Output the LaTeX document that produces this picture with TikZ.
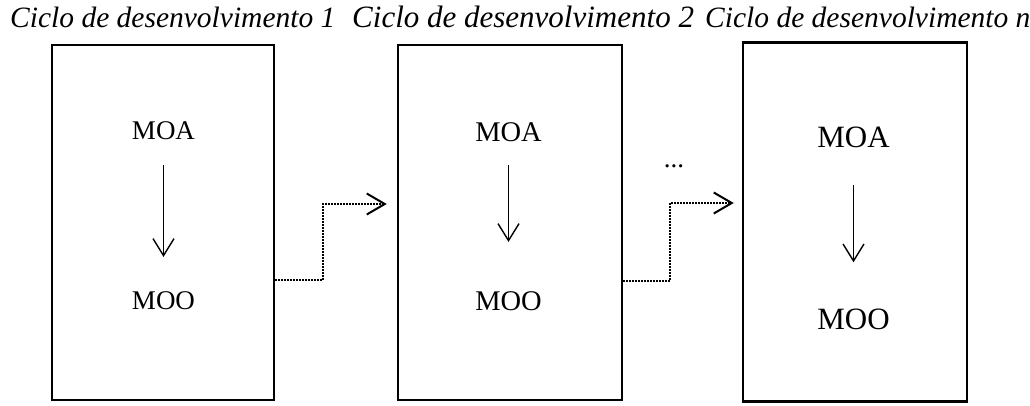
\documentclass[tikz,border=0pt]{standalone}
\usepackage{fontspec}
\setmainfont{Liberation Serif}
\usetikzlibrary{arrows.meta,shadows}

\begin{document}
\begin{tikzpicture}[x=1pt, y=-1pt,
    cyclebox/.style={draw, fill=white, line width=2.5pt, inner sep=0pt},
    cycletitle/.style={anchor=base west, inner sep=0pt, font=\fontsize{29.5}{34}\selectfont\itshape},
    model/.style={anchor=base, inner sep=0pt},
    down/.style={line width=1.4pt, -{Straight Barb[length=17pt, width=21pt, line width=1.4pt]}},
    flow/.style={line width=1.5pt, dash pattern=on 1.5pt off 1.5pt,
        -{Straight Barb[length=18pt, width=21pt, line width=2pt]}}]
    \useasboundingbox (0,0) rectangle (1030,405);

    \node [cycletitle] (t1) at (10,27) {Ciclo de desenvolvimento 1};
    \node [cycletitle, font=\fontsize{31}{36}\selectfont\itshape] (t2) at (352,27) {Ciclo de desenvolvimento 2};
    \node [cycletitle] (t3) at (705,27) {Ciclo de desenvolvimento n};

    \node [cyclebox, minimum width=222pt, minimum height=355pt] (c1) at (163,222.5) {};
    \node [cyclebox, minimum width=224pt, minimum height=355pt] (c2) at (510,222.5) {};
    \node [cyclebox, minimum width=224pt, minimum height=359pt,
        drop shadow={shadow xshift=1.2pt, shadow yshift=-1.2pt, fill=black, opacity=1}] (c3) at (855,222) {};

    \node [model, font=\fontsize{27}{32}\selectfont] (moa1) at (163.5,139) {MOA};
    \node [model, font=\fontsize{27}{32}\selectfont] (moo1) at (163.5,309) {MOO};
    \node [model, font=\fontsize{28.5}{34}\selectfont] (moa2) at (508.5,141) {MOA};
    \node [model, font=\fontsize{28.5}{34}\selectfont] (moo2) at (508.5,310) {MOO};
    \node [model, font=\fontsize{31}{37}\selectfont] (moa3) at (853.5,147) {MOA};
    \node [model, font=\fontsize{31}{37}\selectfont] (moo3) at (853.5,329) {MOO};

    \draw [down, shorten <=26pt, shorten >=34pt] (moa1) -- (moo1);
    \draw [down, shorten <=24pt, shorten >=49pt] (moa2) -- (moo2);
    \draw [down, shorten <=37pt, shorten >=46pt] (moa3) -- (moo3);

    \node [model, font=\fontsize{27}{32}\selectfont] (dots) at (674,167) {...};

    \draw [flow] (c1.east |- 0,280) -| (323,204) -- ([xshift=-10pt] c2.west |- 0,204);
    \draw [flow] (c2.east |- 0,281) -| (670,203) -- ([xshift=-8pt] c3.west |- 0,203);
\end{tikzpicture}
\end{document}
